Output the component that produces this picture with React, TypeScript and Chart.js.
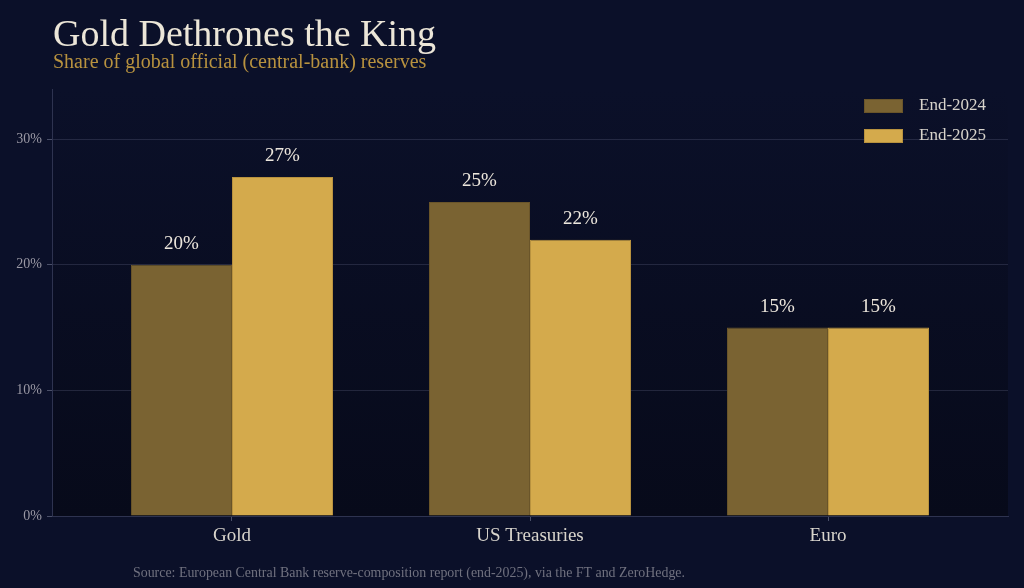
import React, { useEffect, useRef } from "react";
import { Chart, registerables } from "chart.js";

Chart.register(...registerables);

const categories = ["Gold", "US Treasuries", "Euro"];
const seriesNames = ["End-2024", "End-2025"];
const end2024 = [20, 25, 15];
const end2025 = [27, 22, 15];
const yTicks = [0, 10, 20, 30];

const TITLE = "Gold Dethrones the King";
const SUBTITLE = "Share of global official (central-bank) reserves";
const SOURCE =
  "Source: European Central Bank reserve-composition report (end-2025), via the FT and ZeroHedge.";

const SERIF = '"Liberation Serif", "DejaVu Serif", serif';
const COLORS = ["#7a6332", "#d4aa4c"];
const BORDERS = ["#6a552a", "#b8923f"];

const decorPlugin = {
  id: "decor",
  beforeDraw(chart: any) {
    const { ctx, chartArea, width, height } = chart;
    ctx.save();
    ctx.fillStyle = "#0b1029";
    ctx.fillRect(0, 0, width, height);
    const g = ctx.createLinearGradient(0, chartArea.top, 0, chartArea.bottom);
    g.addColorStop(0, "#0b1029");
    g.addColorStop(1, "#070a1a");
    ctx.fillStyle = g;
    ctx.fillRect(chartArea.left, chartArea.top, chartArea.right - chartArea.left, chartArea.bottom - chartArea.top);
    ctx.restore();
  },
  afterDatasetsDraw(chart: any) {
    const { ctx } = chart;
    ctx.save();
    ctx.fillStyle = "#ece6dc";
    ctx.font = `19px ${SERIF}`;
    ctx.textAlign = "center";
    ctx.textBaseline = "middle";
    chart.data.datasets.forEach((ds: any, di: number) => {
      const meta = chart.getDatasetMeta(di);
      meta.data.forEach((bar: any, i: number) => {
        const v = ds.data[i].y;
        ctx.fillText(`${v}%`, bar.x, bar.y - 21);
      });
    });
    ctx.restore();
  },
  afterDraw(chart: any) {
    const { ctx, chartArea } = chart;
    ctx.save();
    // title
    ctx.textAlign = "left";
    ctx.textBaseline = "alphabetic";
    ctx.fillStyle = "#ece6d8";
    ctx.font = `38px ${SERIF}`;
    ctx.fillText(TITLE, 53, 46);
    ctx.fillStyle = "#b8923f";
    ctx.font = `20px ${SERIF}`;
    ctx.fillText(SUBTITLE, 53, 68);
    // source
    ctx.fillStyle = "#70717f";
    ctx.font = `13.9px ${SERIF}`;
    ctx.fillText(SOURCE, 133, 577);
    // legend
    const bx = chartArea.right - 144;
    chart.data.datasets.forEach((ds: any, di: number) => {
      const y = chartArea.top + 10 + di * 30;
      ctx.fillStyle = COLORS[di];
      ctx.fillRect(bx, y, 39, 14);
      ctx.strokeStyle = BORDERS[di];
      ctx.lineWidth = 1;
      ctx.strokeRect(bx + 0.5, y + 0.5, 38, 13);
      ctx.fillStyle = "#d8d4cc";
      ctx.font = `17px ${SERIF}`;
      ctx.textBaseline = "middle";
      ctx.fillText(ds.label, bx + 55, y + 7);
    });
    ctx.restore();
  },
};

export default function App() {
  const ref = useRef<HTMLCanvasElement | null>(null);
  useEffect(() => {
    if (!ref.current) return;
    const chart = new Chart(ref.current, {
      type: "bar",
      data: {
        datasets: [end2024, end2025].map((vals, di) => ({
          label: seriesNames[di],
          data: vals.map((v, i) => ({ x: i, y: v })),
          backgroundColor: COLORS[di],
          borderColor: BORDERS[di],
          borderWidth: 1,
          categoryPercentage: 0.678,
          barPercentage: 1.0,
        })),
      },
      options: {
        animation: false,
        responsive: true,
        maintainAspectRatio: false,
        layout: { padding: { left: 0, right: 16, top: 89, bottom: 0 } },
        plugins: {
          legend: { display: false },
          tooltip: { enabled: false },
          title: { display: false },
        },
        scales: {
          x: {
            type: "linear",
            min: -0.604,
            max: 2.604,
            offset: false,
            afterBuildTicks(scale: any) {
              scale.ticks = categories.map((_, i) => ({ value: i }));
            },
            afterFit(scale: any) {
              scale.height = 72;
            },
            ticks: {
              callback: (v: any) => categories[v as number] ?? "",
              color: "#d8d4cc",
              font: { family: SERIF, size: 19 },
              padding: 4,
              autoSkip: false,
              maxRotation: 0,
            },
            grid: {
              offset: false,
              drawOnChartArea: false,
              drawTicks: true,
              tickLength: 5,
              tickColor: "#4a4f68",
            },
            border: { display: true, color: "#2e3350", width: 1 },
          },
          y: {
            min: 0,
            max: 34,
            afterBuildTicks(scale: any) {
              scale.ticks = yTicks.map((v) => ({ value: v }));
            },
            afterFit(scale: any) {
              scale.width = 52;
            },
            ticks: {
              callback: (v: any) => `${v}%`,
              color: "#9a98a4",
              font: { family: SERIF, size: 14 },
              padding: 5,
            },
            grid: {
              color: "rgba(120,125,160,0.24)",
              drawTicks: true,
              tickLength: 5,
              tickColor: "#4a4f68",
            },
            border: { display: true, color: "#2e3350", width: 1 },
          },
        },
      },
      plugins: [decorPlugin],
    });
    return () => chart.destroy();
  }, []);
  return (
    <div style={{ position: "fixed", left: 0, top: 0, width: 1024, height: 588 }}>
      <canvas ref={ref} />
    </div>
  );
}
